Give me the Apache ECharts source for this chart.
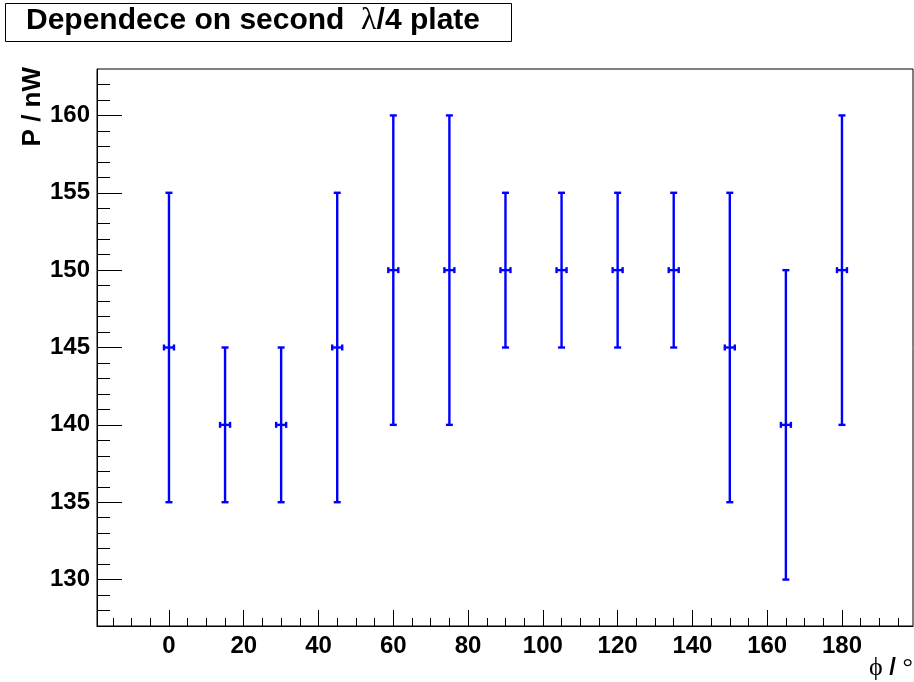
<!DOCTYPE html>
<html>
<head>
<meta charset="utf-8">
<script src="https://cdn.jsdelivr.net/npm/echarts@6/dist/echarts.min.js"></script>
<style>
  html, body { margin: 0; padding: 0; background: #fff; }
  #chart { width: 914px; height: 682px; }
</style>
</head>
<body>
<div id="chart"></div>
<script>
// measured points: angle of the second plate vs. power
const phi = [0, 15, 30, 45, 60, 75, 90, 105, 120, 135, 150, 165, 180];
const power = [145, 140, 140, 145, 150, 150, 150, 150, 150, 150, 145, 140, 150];
const powerErr = [10, 5, 5, 10, 10, 10, 5, 5, 5, 5, 10, 10, 10];

// axis ticks (ROOT style, ticks drawn inside the frame)
const xMajorTicks = [0, 20, 40, 60, 80, 100, 120, 140, 160, 180];
const xMinorTicks = [-15, -10, -5, 0, 5, 10, 15, 20, 25, 30, 35, 40, 45, 50, 55, 60, 65, 70, 75, 80,
  85, 90, 95, 100, 105, 110, 115, 120, 125, 130, 135, 140, 145, 150, 155, 160, 165, 170, 175, 180,
  185, 190, 195];
const yMajorTicks = [130, 135, 140, 145, 150, 155, 160];
const yMinorTicks = [128, 129, 130, 131, 132, 133, 134, 135, 136, 137, 138, 139, 140, 141, 142, 143,
  144, 145, 146, 147, 148, 149, 150, 151, 152, 153, 154, 155, 156, 157, 158, 159, 160, 161, 162];

const X_MIN = -19.25, X_MAX = 199;
const Y_MIN = 127, Y_MAX = 163;

const chart = echarts.init(document.getElementById('chart'));

const labelFont = {
  color: '#000',
  fontFamily: 'Liberation Sans, Arial, sans-serif',
  fontWeight: 'bold',
  fontSize: 24
};
const black = { color: '#000', width: 1 };

function renderBar(params, api) {
  const x = api.value(0), y = api.value(1), e = api.value(2);
  const c = api.coord([x, y]);
  const hi = api.coord([x, y + e]);
  const lo = api.coord([x, y - e]);
  const st = { stroke: '#0000ff', lineWidth: 2.4 };
  const line = (x1, y1, x2, y2) => ({ type: 'line', shape: { x1, y1, x2, y2 }, style: st });
  return {
    type: 'group',
    children: [
      line(c[0], hi[1], c[0], lo[1]),
      line(c[0] - 3.5, hi[1], c[0] + 3.5, hi[1]),
      line(c[0] - 3.5, lo[1], c[0] + 3.5, lo[1]),
      line(c[0] - 5, c[1], c[0] + 5, c[1]),
      line(c[0] - 5, c[1] - 3, c[0] - 5, c[1] + 3),
      line(c[0] + 5, c[1] - 3, c[0] + 5, c[1] + 3)
    ]
  };
}

const option = {
  animation: false,
  backgroundColor: '#fff',
  grid: {
    left: 97, right: 1, top: 69, bottom: 56,
    show: true, borderColor: '#000', borderWidth: 1, backgroundColor: 'transparent'
  },
  xAxis: [{
    type: 'value', min: X_MIN, max: X_MAX, position: 'bottom',
    axisLine: { show: true, onZero: false, lineStyle: black },
    axisTick: { show: true, inside: true, length: 16, customValues: xMajorTicks, lineStyle: black },
    axisLabel: Object.assign({ customValues: xMajorTicks, margin: 8 }, labelFont),
    splitLine: { show: false }
  }, {
    type: 'value', min: X_MIN, max: X_MAX, position: 'bottom',
    axisLine: { show: false, onZero: false },
    axisTick: { show: true, inside: true, length: 8, customValues: xMinorTicks, lineStyle: black },
    axisLabel: { show: false },
    splitLine: { show: false }
  }],
  yAxis: [{
    type: 'value', min: Y_MIN, max: Y_MAX, position: 'left',
    axisLine: { show: true, onZero: false, lineStyle: black },
    axisTick: { show: true, inside: true, length: 25, customValues: yMajorTicks, lineStyle: black },
    axisLabel: Object.assign({ customValues: yMajorTicks, margin: 7 }, labelFont),
    splitLine: { show: false }
  }, {
    type: 'value', min: Y_MIN, max: Y_MAX, position: 'left',
    axisLine: { show: false, onZero: false },
    axisTick: { show: true, inside: true, length: 13, customValues: yMinorTicks, lineStyle: black },
    axisLabel: { show: false },
    splitLine: { show: false }
  }],
  series: [{
    type: 'custom',
    xAxisIndex: 0,
    yAxisIndex: 0,
    renderItem: renderBar,
    data: phi.map((x, i) => [x, power[i], powerErr[i]]),
    clip: false
  }],
  graphic: [
    {
      type: 'rect',
      shape: { x: 5.5, y: 3.5, width: 506, height: 38 },
      style: { fill: '#fff', stroke: '#000', lineWidth: 1 }
    },
    {
      type: 'text',
      x: 253, y: 21,
      style: {
        text: '{b|Dependece on second  }{l|λ}{b|/4 plate}',
        align: 'center', verticalAlign: 'middle',
        rich: {
          b: { fontFamily: 'Liberation Sans, Arial, sans-serif', fontWeight: 'bold', fontSize: 30, fill: '#000' },
          l: { fontFamily: 'Liberation Serif, serif', fontSize: 32, fill: '#000' }
        }
      }
    },
    {
      type: 'text',
      x: 33, y: 67, rotation: Math.PI / 2,
      style: {
        text: 'P / nW',
        align: 'right', verticalAlign: 'middle',
        font: 'bold 26px "Liberation Sans", Arial, sans-serif',
        fill: '#000'
      }
    },
    {
      type: 'text',
      x: 913, y: 668,
      style: {
        text: '{s|ϕ}{b| / }{s|°}',
        align: 'right', verticalAlign: 'middle',
        rich: {
          s: { fontFamily: 'Liberation Serif, DejaVu Serif, serif', fontSize: 26, fill: '#000' },
          b: { fontFamily: 'Liberation Sans, Arial, sans-serif', fontWeight: 'bold', fontSize: 24, fill: '#000' }
        }
      }
    }
  ]
};

chart.setOption(option);
</script>
</body>
</html>
